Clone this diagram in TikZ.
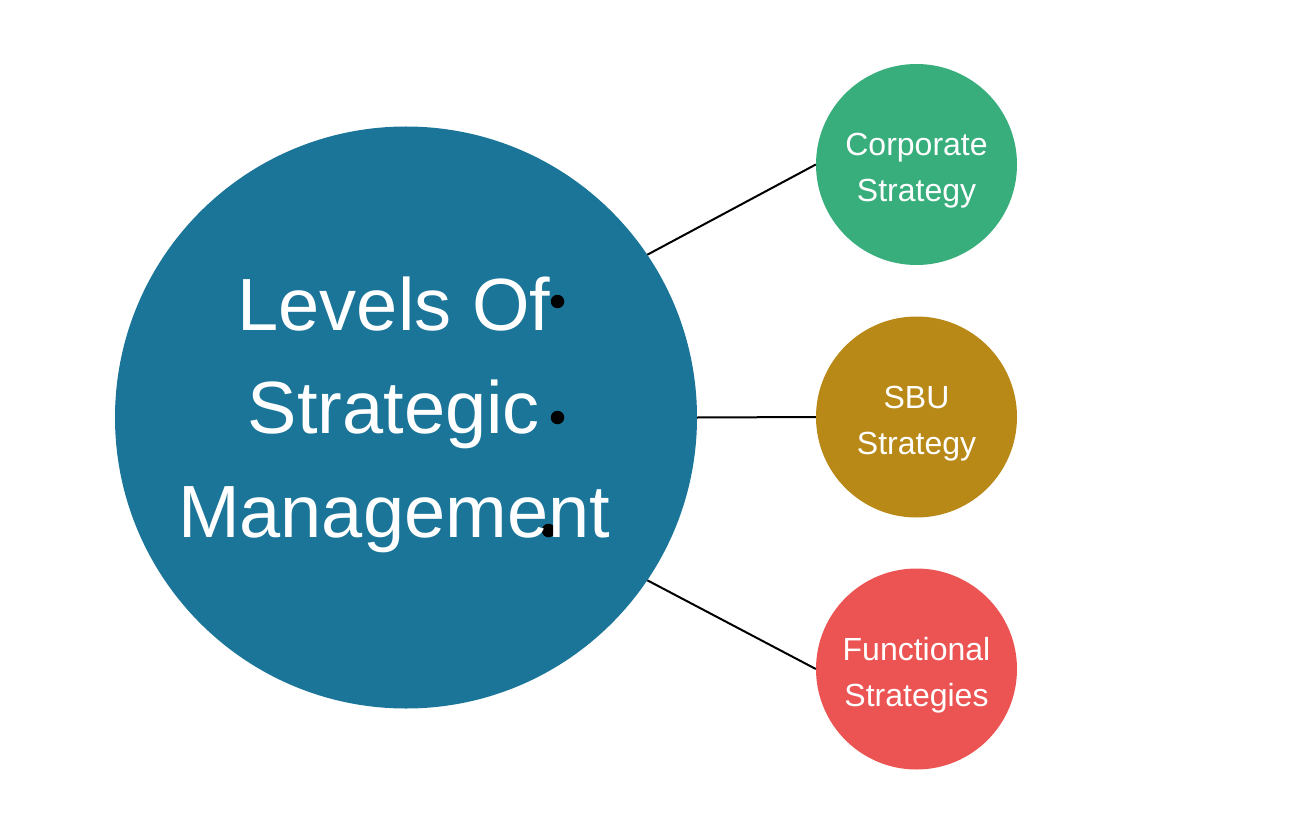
\documentclass[tikz,border=0pt]{standalone}
\usepackage{fontspec}
\setmainfont{Liberation Sans}
\definecolor{bigblue}{RGB}{26,117,153}
\definecolor{corpgreen}{RGB}{56,174,124}
\definecolor{sbugold}{RGB}{184,137,23}
\definecolor{funcred}{RGB}{235,84,83}
\tikzset{
  bigcirc/.style={circle,fill=bigblue,minimum size=582pt,inner sep=0pt},
  smallcirc/.style={circle,minimum size=201pt,inner sep=0pt},
  smalltext/.style={text=white,align=center,anchor=base,font=\fontsize{32}{45.5}\selectfont},
  bigtext/.style={text=white,align=center,anchor=base,font=\fontsize{74}{103.5}\selectfont},
  bulletdot/.style={circle,fill=black,minimum size=13.5pt,inner sep=0pt},
  link/.style={draw=black,line width=2pt}
}
\begin{document}
\begin{tikzpicture}[x=1pt,y=-1pt]
\useasboundingbox (0,0) rectangle (1300,834);
\node[bigcirc] (big) at (406,417.5) {};
\node[smallcirc,fill=corpgreen] (corp) at (916.5,164.5) {};
\node[smallcirc,fill=sbugold] (sbu) at (916.5,417) {};
\node[smallcirc,fill=funcred] (func) at (916.5,669) {};
\draw[link] (big.34) -- (corp.west);
\draw[link] (big.east) -- (sbu.west);
\draw[link] (big.-34) -- (func.west);
\node[bulletdot] (d1) at (557.5,301.5) {};
\node[bulletdot] (d2) at (557.5,417.5) {};
\node[bulletdot] (d3) at (548.5,530.5) {};
\node[bigtext] (title) at (394,537) {Levels Of\\Strategic\\Management};
\node[smalltext] (corpt) at (916.5,201.5) {Corporate\\Strategy};
\node[smalltext] (sbut) at (916.5,454) {SBU\\Strategy};
\node[smalltext] (funct) at (916.5,706) {Functional\\Strategies};
\end{tikzpicture}
\end{document}
